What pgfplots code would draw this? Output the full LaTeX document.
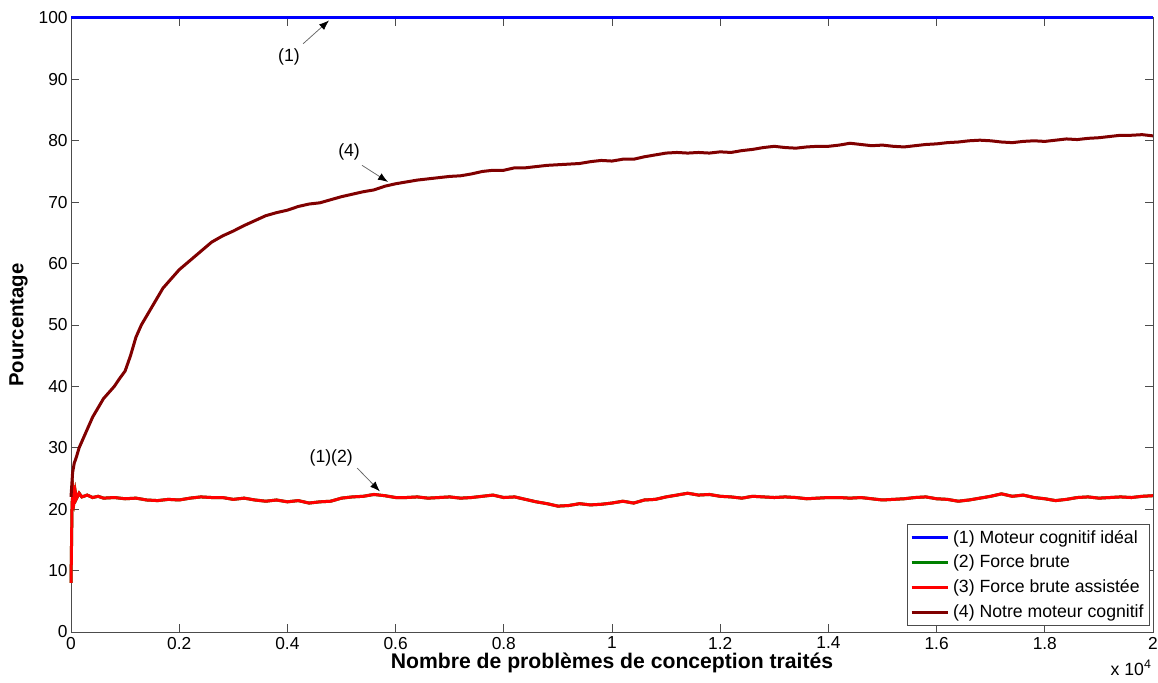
\documentclass[border=0pt]{standalone}
\usepackage{pgfplots}
\pgfplotsset{compat=1.18}
\usetikzlibrary{arrows.meta}
\usepackage{fontspec}
\setmainfont{Liberation Sans}
\definecolor{mblue}{RGB}{0,0,255}
\definecolor{mgreen}{RGB}{0,128,0}
\definecolor{mred}{RGB}{255,0,0}
\definecolor{mbrown}{RGB}{128,0,0}
\begin{document}
\begin{tikzpicture}
\path[use as bounding box] (-42.6pt,-30pt) rectangle (652.2pt,379.2pt);
\begin{axis}[
  scale only axis,
  width=649.2pt, height=368.4pt,
  xmin=0, xmax=2, ymin=0, ymax=100,
  xtick={0,0.2,...,2.01},
  xticklabels={0,0.2,0.4,0.6,0.8,1,1.2,1.4,1.6,1.8,2},
  ytick={0,10,...,100},
  tick align=inside,
  major tick length=5pt,
  tick style={color=black!70, line width=0.5pt},
  axis line style={color=black!70, line width=0.6pt},
  /pgf/number format/assume math mode=true,
  xticklabel style={font=\fontsize{10.4}{12}\selectfont, yshift=0.5pt},
  yticklabel style={font=\fontsize{10.4}{12}\selectfont, xshift=1.5pt},
  xlabel={Nombre de problèmes de conception traités},
  ylabel={Pourcentage},
  every axis x label/.style={at={(axis description cs:0.5,-0.0505)}, anchor=center, font=\fontsize{12.7}{14}\selectfont\bfseries},
  every axis y label/.style={at={(axis description cs:-0.0485,0.5)}, rotate=90, anchor=center, font=\fontsize{12.2}{14}\selectfont\bfseries},
  legend style={at={(0.997,0.01)}, anchor=south east, draw=black!70, font=\fontsize{10.6}{12}\selectfont, inner sep=1.5pt, row sep=1.6pt},
  legend cell align=left,
  legend image code/.code={\draw[#1] (0pt,0pt) -- (22pt,0pt);},
  clip=false,
]
\addplot[mblue, line width=1.8pt] coordinates {(0,100) (2,100)};
\addlegendentry{(1) Moteur cognitif idéal}
\addplot[mgreen, line width=1.8pt] coordinates {
(0,8) (0.002,21) (0.004,23) (0.006,21.5) (0.008,22.8) (0.01,21.7) (0.015,22.6) (0.02,22.0) (0.03,22.3) (0.04,21.9)
(0.05,22.1) (0.06,21.8) (0.08,21.9) (0.10,21.7) (0.12,21.8) (0.14,21.5) (0.16,21.4) (0.18,21.6) (0.20,21.5)
(0.22,21.8) (0.24,22.0) (0.26,21.9) (0.28,21.9) (0.30,21.6) (0.32,21.8) (0.34,21.5) (0.36,21.3) (0.38,21.5)
(0.40,21.2) (0.42,21.4) (0.44,21.0) (0.46,21.2) (0.48,21.3) (0.50,21.8) (0.52,22.0) (0.54,22.1) (0.56,22.4)
(0.58,22.2) (0.60,21.9) (0.62,21.9) (0.64,22.0) (0.66,21.8) (0.68,21.9) (0.70,22.0) (0.72,21.8) (0.74,21.9)
(0.76,22.1) (0.78,22.3) (0.80,21.9) (0.82,22.0) (0.84,21.6) (0.86,21.2) (0.88,20.9) (0.90,20.5) (0.92,20.6)
(0.94,20.9) (0.96,20.7) (0.98,20.8) (1.00,21.0) (1.02,21.3) (1.04,21.0) (1.06,21.5) (1.08,21.6) (1.10,22.0)
(1.12,22.3) (1.14,22.6) (1.16,22.3) (1.18,22.4) (1.20,22.1) (1.22,22.0) (1.24,21.8) (1.26,22.1) (1.28,22.0)
(1.30,21.9) (1.32,22.0) (1.34,21.9) (1.36,21.7) (1.38,21.8) (1.40,21.9) (1.42,21.9) (1.44,21.8) (1.46,21.9)
(1.48,21.7) (1.50,21.5) (1.52,21.6) (1.54,21.7) (1.56,21.9) (1.58,22.0) (1.60,21.7) (1.62,21.6) (1.64,21.3)
(1.66,21.5) (1.68,21.8) (1.70,22.1) (1.72,22.5) (1.74,22.1) (1.76,22.3) (1.78,21.9) (1.80,21.7) (1.82,21.4)
(1.84,21.6) (1.86,21.9) (1.88,22.0) (1.90,21.8) (1.92,21.9) (1.94,22.0) (1.96,21.9) (1.98,22.1) (2.00,22.2)};
\addlegendentry{(2) Force brute}
\addplot[mred, line width=1.8pt] coordinates {
(0,8) (0.002,21) (0.004,23) (0.006,21.5) (0.008,22.8) (0.01,21.7) (0.015,22.6) (0.02,22.0) (0.03,22.3) (0.04,21.9)
(0.05,22.1) (0.06,21.8) (0.08,21.9) (0.10,21.7) (0.12,21.8) (0.14,21.5) (0.16,21.4) (0.18,21.6) (0.20,21.5)
(0.22,21.8) (0.24,22.0) (0.26,21.9) (0.28,21.9) (0.30,21.6) (0.32,21.8) (0.34,21.5) (0.36,21.3) (0.38,21.5)
(0.40,21.2) (0.42,21.4) (0.44,21.0) (0.46,21.2) (0.48,21.3) (0.50,21.8) (0.52,22.0) (0.54,22.1) (0.56,22.4)
(0.58,22.2) (0.60,21.9) (0.62,21.9) (0.64,22.0) (0.66,21.8) (0.68,21.9) (0.70,22.0) (0.72,21.8) (0.74,21.9)
(0.76,22.1) (0.78,22.3) (0.80,21.9) (0.82,22.0) (0.84,21.6) (0.86,21.2) (0.88,20.9) (0.90,20.5) (0.92,20.6)
(0.94,20.9) (0.96,20.7) (0.98,20.8) (1.00,21.0) (1.02,21.3) (1.04,21.0) (1.06,21.5) (1.08,21.6) (1.10,22.0)
(1.12,22.3) (1.14,22.6) (1.16,22.3) (1.18,22.4) (1.20,22.1) (1.22,22.0) (1.24,21.8) (1.26,22.1) (1.28,22.0)
(1.30,21.9) (1.32,22.0) (1.34,21.9) (1.36,21.7) (1.38,21.8) (1.40,21.9) (1.42,21.9) (1.44,21.8) (1.46,21.9)
(1.48,21.7) (1.50,21.5) (1.52,21.6) (1.54,21.7) (1.56,21.9) (1.58,22.0) (1.60,21.7) (1.62,21.6) (1.64,21.3)
(1.66,21.5) (1.68,21.8) (1.70,22.1) (1.72,22.5) (1.74,22.1) (1.76,22.3) (1.78,21.9) (1.80,21.7) (1.82,21.4)
(1.84,21.6) (1.86,21.9) (1.88,22.0) (1.90,21.8) (1.92,21.9) (1.94,22.0) (1.96,21.9) (1.98,22.1) (2.00,22.2)};
\addlegendentry{(3) Force brute assistée}
\addplot[mbrown, line width=1.8pt] coordinates {
(0,22) (0.003,26) (0.006,27.5) (0.01,28.5) (0.015,30) (0.02,31) (0.03,33) (0.04,35) (0.05,36.5) (0.06,38)
(0.07,39) (0.08,40) (0.09,41.3) (0.1,42.5) (0.11,45) (0.12,48) (0.13,50) (0.14,51.5) (0.15,53) (0.16,54.5)
(0.17,56) (0.18,57) (0.19,58) (0.2,59) (0.22,60.5) (0.24,62) (0.26,63.5) (0.28,64.5) (0.3,65.3) (0.32,66.2)
(0.34,67) (0.36,67.8) (0.38,68.3) (0.40,68.7) (0.42,69.3) (0.44,69.7) (0.46,69.9) (0.48,70.4) (0.50,70.9)
(0.52,71.3) (0.54,71.7) (0.56,72.0) (0.58,72.6) (0.60,73.0) (0.62,73.3) (0.64,73.6) (0.66,73.8) (0.68,74.0)
(0.70,74.2) (0.72,74.3) (0.74,74.6) (0.76,75.0) (0.78,75.2) (0.80,75.2) (0.82,75.6) (0.84,75.6) (0.86,75.8)
(0.88,76.0) (0.90,76.1) (0.92,76.2) (0.94,76.3) (0.96,76.6) (0.98,76.8) (1.00,76.7) (1.02,77.0) (1.04,77.0)
(1.06,77.4) (1.08,77.7) (1.10,78.0) (1.12,78.1) (1.14,78.0) (1.16,78.1) (1.18,78.0) (1.20,78.2) (1.22,78.1)
(1.24,78.4) (1.26,78.6) (1.28,78.9) (1.30,79.1) (1.32,78.9) (1.34,78.8) (1.36,79.0) (1.38,79.1) (1.40,79.1)
(1.42,79.3) (1.44,79.6) (1.46,79.4) (1.48,79.2) (1.50,79.3) (1.52,79.1) (1.54,79.0) (1.56,79.2) (1.58,79.4)
(1.60,79.5) (1.62,79.7) (1.64,79.8) (1.66,80.0) (1.68,80.1) (1.70,80.0) (1.72,79.8) (1.74,79.7) (1.76,79.9)
(1.78,80.0) (1.80,79.9) (1.82,80.1) (1.84,80.3) (1.86,80.2) (1.88,80.4) (1.90,80.5) (1.92,80.7) (1.94,80.9)
(1.96,80.9) (1.98,81.0) (2.00,80.8)};
\addlegendentry{(4) Notre moteur cognitif}
% annotations
\node[font=\fontsize{10.6}{12}\selectfont] at (axis cs:0.403,93.6) {(1)};
\draw[black!60, line width=0.45pt, -{Latex[length=6pt,width=4.5pt,fill=black,color=black]}] (axis cs:0.429,95.8) -- (axis cs:0.477,99.6);
\node[font=\fontsize{10.6}{12}\selectfont] at (axis cs:0.514,78.2) {(4)};
\draw[black!60, line width=0.45pt, -{Latex[length=6pt,width=4.5pt,fill=black,color=black]}] (axis cs:0.538,76.0) -- (axis cs:0.586,73.3);
\node[font=\fontsize{10.6}{12}\selectfont] at (axis cs:0.481,28.3) {(1)(2)};
\draw[black!60, line width=0.45pt, -{Latex[length=6pt,width=4.5pt,fill=black,color=black]}] (axis cs:0.529,26.7) -- (axis cs:0.571,22.9);
\end{axis}
\node[anchor=east, font=\fontsize{10.6}{12}\selectfont] at (652pt,-21.6pt) {x 10\textsuperscript{4}};
\end{tikzpicture}
\end{document}
